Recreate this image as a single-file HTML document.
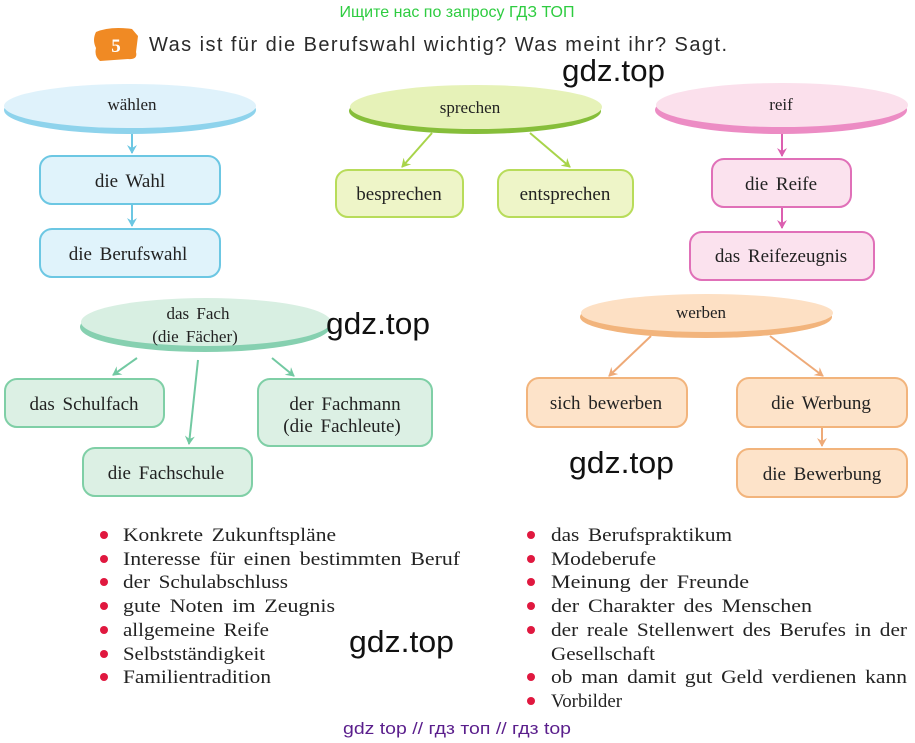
<!DOCTYPE html>
<html><head><meta charset="utf-8"><style>
html,body{margin:0;padding:0;background:#fff;}
svg{display:block}
.s{font-family:"Liberation Serif",serif;font-size:19px;fill:#222;word-spacing:3px;}
.b{font-family:"Liberation Serif",serif;font-size:17px;fill:#222;word-spacing:3px;}
.w{font-family:"Liberation Sans",sans-serif;font-size:31px;fill:#111;}
</style></head><body>
<svg width="915" height="743" viewBox="0 0 915 743" xmlns="http://www.w3.org/2000/svg">
<defs>
<marker id="ab" markerWidth="10" markerHeight="10" refX="8" refY="5" orient="auto" markerUnits="userSpaceOnUse"><path d="M0,0 L9,5 L0,10 L3,5z" fill="#6cc7e3"/></marker>
<marker id="ag" markerWidth="10" markerHeight="10" refX="8" refY="5" orient="auto" markerUnits="userSpaceOnUse"><path d="M0,0 L9,5 L0,10 L3,5z" fill="#a8d44a"/></marker>
<marker id="ap" markerWidth="10" markerHeight="10" refX="8" refY="5" orient="auto" markerUnits="userSpaceOnUse"><path d="M0,0 L9,5 L0,10 L3,5z" fill="#dc5fb0"/></marker>
<marker id="am" markerWidth="10" markerHeight="10" refX="8" refY="5" orient="auto" markerUnits="userSpaceOnUse"><path d="M0,0 L9,5 L0,10 L3,5z" fill="#72c9a2"/></marker>
<marker id="ao" markerWidth="10" markerHeight="10" refX="8" refY="5" orient="auto" markerUnits="userSpaceOnUse"><path d="M0,0 L9,5 L0,10 L3,5z" fill="#eeaa78"/></marker>
</defs>

<text x="457" y="17" text-anchor="middle" font-family="Liberation Sans,sans-serif" font-size="16" fill="#2ecc40">Ищите нас по запросу ГДЗ ТОП</text>
<path d="M96,32 Q110,26 132,29 L138,36 L136,52 Q138,60 128,59 L100,61 Q94,56 96,48 Q92,40 96,32z" fill="#f08a24"/>
<text x="116" y="52" text-anchor="middle" font-family="Liberation Serif,serif" font-weight="bold" font-size="19" fill="#fff">5</text>
<text x="149" y="51" font-family="Liberation Sans,sans-serif" font-size="20" fill="#2a2a2a" textLength="578" lengthAdjust="spacing">Was ist für die Berufswahl wichtig? Was meint ihr? Sagt.</text>

<!-- blue -->
<ellipse cx="130" cy="110" rx="126" ry="24" fill="#8ed3ec"/>
<ellipse cx="130" cy="106" rx="126" ry="22" fill="#dff2fb"/>
<text x="132" y="110" text-anchor="middle" class="b">wählen</text>
<line x1="132" y1="134" x2="132" y2="153" stroke="#6cc7e3" stroke-width="2" marker-end="url(#ab)"/>
<rect x="40" y="156" width="180" height="48" rx="12" fill="#e0f3fb" stroke="#6cc7e3" stroke-width="2"/>
<text x="130" y="187" text-anchor="middle" class="s">die Wahl</text>
<line x1="132" y1="205" x2="132" y2="226" stroke="#6cc7e3" stroke-width="2" marker-end="url(#ab)"/>
<rect x="40" y="229" width="180" height="48" rx="12" fill="#e0f3fb" stroke="#6cc7e3" stroke-width="2"/>
<text x="128" y="260" text-anchor="middle" class="s">die Berufswahl</text>

<!-- green -->
<ellipse cx="475" cy="111" rx="126" ry="23" fill="#86be3a"/>
<ellipse cx="476" cy="107" rx="126" ry="22" fill="#e6f2b8"/>
<text x="470" y="113" text-anchor="middle" class="b">sprechen</text>
<line x1="432" y1="133" x2="402" y2="167" stroke="#a8d44a" stroke-width="2" marker-end="url(#ag)"/>
<line x1="530" y1="133" x2="570" y2="167" stroke="#a8d44a" stroke-width="2" marker-end="url(#ag)"/>
<rect x="336" y="170" width="127" height="47" rx="12" fill="#eef5c8" stroke="#b8dc5a" stroke-width="2"/>
<text x="399" y="200" text-anchor="middle" class="s">besprechen</text>
<rect x="498" y="170" width="135" height="47" rx="12" fill="#eef5c8" stroke="#b8dc5a" stroke-width="2"/>
<text x="565" y="200" text-anchor="middle" class="s">entsprechen</text>

<!-- pink -->
<ellipse cx="781" cy="110" rx="126" ry="24" fill="#ec8cc4"/>
<ellipse cx="782" cy="105" rx="126" ry="22" fill="#fbe0ec"/>
<text x="781" y="110" text-anchor="middle" class="b">reif</text>
<line x1="782" y1="134" x2="782" y2="156" stroke="#dc5fb0" stroke-width="2" marker-end="url(#ap)"/>
<rect x="712" y="159" width="139" height="48" rx="12" fill="#fbe2ee" stroke="#e070b8" stroke-width="2"/>
<text x="781" y="190" text-anchor="middle" class="s">die Reife</text>
<line x1="782" y1="208" x2="782" y2="228" stroke="#dc5fb0" stroke-width="2" marker-end="url(#ap)"/>
<rect x="690" y="232" width="184" height="48" rx="12" fill="#fbe2ee" stroke="#e070b8" stroke-width="2"/>
<text x="781" y="262" text-anchor="middle" class="s">das Reifezeugnis</text>

<!-- mint -->
<ellipse cx="205" cy="327" rx="125" ry="25" fill="#86d0b0"/>
<ellipse cx="206" cy="322" rx="125" ry="24" fill="#d8efe2"/>
<text x="198" y="319" text-anchor="middle" class="b">das Fach</text>
<text x="195" y="342" text-anchor="middle" class="b">(die Fächer)</text>
<line x1="137" y1="358" x2="113" y2="375" stroke="#72c9a2" stroke-width="2" marker-end="url(#am)"/>
<line x1="198" y1="360" x2="189" y2="444" stroke="#72c9a2" stroke-width="2" marker-end="url(#am)"/>
<line x1="272" y1="358" x2="294" y2="376" stroke="#72c9a2" stroke-width="2" marker-end="url(#am)"/>
<rect x="5" y="379" width="159" height="48" rx="12" fill="#dcf0e4" stroke="#7fcfa6" stroke-width="2"/>
<text x="84" y="410" text-anchor="middle" class="s">das Schulfach</text>
<rect x="258" y="379" width="174" height="67" rx="12" fill="#dcf0e4" stroke="#7fcfa6" stroke-width="2"/>
<text x="345" y="410" text-anchor="middle" class="s">der Fachmann</text>
<text x="342" y="432" text-anchor="middle" class="s">(die Fachleute)</text>
<rect x="83" y="448" width="169" height="48" rx="12" fill="#dcf0e4" stroke="#7fcfa6" stroke-width="2"/>
<text x="166" y="479" text-anchor="middle" class="s">die Fachschule</text>

<!-- orange -->
<ellipse cx="706" cy="317" rx="126" ry="21" fill="#f2b47c"/>
<ellipse cx="707" cy="313" rx="126" ry="19" fill="#fde0c4"/>
<text x="701" y="318" text-anchor="middle" class="b">werben</text>
<line x1="651" y1="336" x2="609" y2="376" stroke="#eeaa78" stroke-width="2" marker-end="url(#ao)"/>
<line x1="770" y1="336" x2="823" y2="376" stroke="#eeaa78" stroke-width="2" marker-end="url(#ao)"/>
<rect x="527" y="378" width="160" height="49" rx="12" fill="#fde3c9" stroke="#f2b47c" stroke-width="2"/>
<text x="606" y="409" text-anchor="middle" class="s">sich bewerben</text>
<rect x="737" y="378" width="170" height="49" rx="12" fill="#fde3c9" stroke="#f2b47c" stroke-width="2"/>
<text x="821" y="409" text-anchor="middle" class="s">die Werbung</text>
<line x1="822" y1="428" x2="822" y2="446" stroke="#eeaa78" stroke-width="2" marker-end="url(#ao)"/>
<rect x="737" y="449" width="170" height="48" rx="12" fill="#fde3c9" stroke="#f2b47c" stroke-width="2"/>
<text x="822" y="480" text-anchor="middle" class="s">die Bewerbung</text>

<!-- watermarks -->
<text x="562" y="81" class="w" textLength="103" lengthAdjust="spacingAndGlyphs">gdz.top</text>
<text x="326" y="334" class="w" textLength="104" lengthAdjust="spacingAndGlyphs">gdz.top</text>
<text x="569" y="473" class="w" textLength="105" lengthAdjust="spacingAndGlyphs">gdz.top</text>
<text x="349" y="652" class="w" textLength="105" lengthAdjust="spacingAndGlyphs">gdz.top</text>

<!-- lists -->
<g fill="#e0183f">
<circle cx="104" cy="535" r="4"/><circle cx="104" cy="559" r="4"/><circle cx="104" cy="582" r="4"/><circle cx="104" cy="606" r="4"/><circle cx="104" cy="630" r="4"/><circle cx="104" cy="654" r="4"/><circle cx="104" cy="677" r="4"/>
<circle cx="531" cy="535" r="4"/><circle cx="531" cy="559" r="4"/><circle cx="531" cy="582" r="4"/><circle cx="531" cy="606" r="4"/><circle cx="531" cy="630" r="4"/><circle cx="531" cy="677" r="4"/><circle cx="531" cy="701" r="4"/>
</g>
<g class="s">
<text x="123" y="541" textLength="213" lengthAdjust="spacingAndGlyphs">Konkrete Zukunftspläne</text>
<text x="123" y="565" textLength="337" lengthAdjust="spacingAndGlyphs">Interesse für einen bestimmten Beruf</text>
<text x="123" y="588" textLength="165" lengthAdjust="spacingAndGlyphs">der Schulabschluss</text>
<text x="123" y="612" textLength="212" lengthAdjust="spacingAndGlyphs">gute Noten im Zeugnis</text>
<text x="123" y="636" textLength="146" lengthAdjust="spacingAndGlyphs">allgemeine Reife</text>
<text x="123" y="660" textLength="142" lengthAdjust="spacingAndGlyphs">Selbstständigkeit</text>
<text x="123" y="683" textLength="148" lengthAdjust="spacingAndGlyphs">Familientradition</text>
<text x="551" y="541" textLength="181" lengthAdjust="spacingAndGlyphs">das Berufspraktikum</text>
<text x="551" y="565" textLength="105" lengthAdjust="spacingAndGlyphs">Modeberufe</text>
<text x="551" y="588" textLength="198" lengthAdjust="spacingAndGlyphs">Meinung der Freunde</text>
<text x="551" y="612" textLength="261" lengthAdjust="spacingAndGlyphs">der Charakter des Menschen</text>
<text x="551" y="636" textLength="356" lengthAdjust="spacingAndGlyphs">der reale Stellenwert des Berufes in der</text>
<text x="551" y="660" textLength="104" lengthAdjust="spacingAndGlyphs">Gesellschaft</text>
<text x="551" y="683" textLength="356" lengthAdjust="spacingAndGlyphs">ob man damit gut Geld verdienen kann</text>
<text x="551" y="707" textLength="71" lengthAdjust="spacingAndGlyphs">Vorbilder</text>
</g>
<text x="343" y="734" font-family="Liberation Sans,sans-serif" font-size="17" fill="#5a1e8c" textLength="228" lengthAdjust="spacingAndGlyphs">gdz top  //  гдз топ  //  гдз top</text>
</svg>
</body></html>
